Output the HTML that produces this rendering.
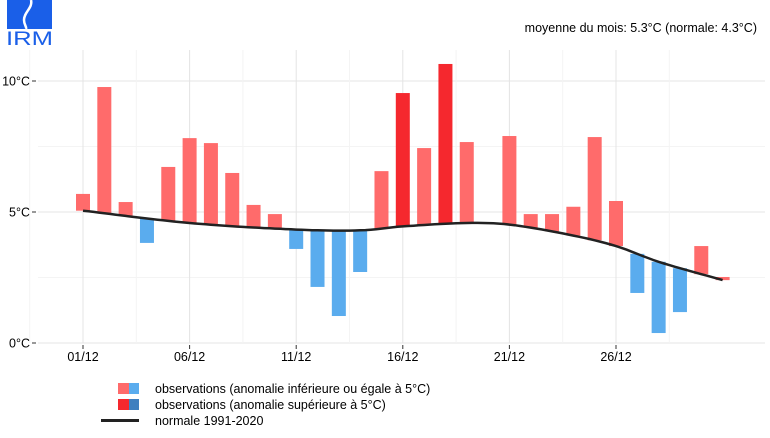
<!DOCTYPE html>
<html><head><meta charset="utf-8"><style>
body{margin:0;background:#fff;width:770px;height:433px;overflow:hidden;font-family:"Liberation Sans",sans-serif}
</style></head><body>
<svg id="s" width="770" height="433" xmlns="http://www.w3.org/2000/svg" font-family="Liberation Sans, sans-serif">
<rect width="770" height="433" fill="#fff"/>
<rect x="7" y="0" width="45" height="29" fill="#1a5fe8"/>
<path d="M31 0 C33 8,24 12,24 20 C24 25,27 27,26 29" stroke="#fff" stroke-width="2.5" fill="none"/>
<text x="6" y="45" font-size="19" fill="#1a5fe8" textLength="47" lengthAdjust="spacingAndGlyphs">IRM</text>
<text x="757" y="32" font-size="12.5" text-anchor="end" fill="#000">moyenne du mois: 5.3°C (normale: 4.3°C)</text>
<g id="g"></g>
<g font-size="12.5" fill="#000">
<rect x="118" y="383" width="11" height="11" fill="#ff6b6b"/><rect x="129" y="383" width="10" height="11" fill="#5aacee"/>
<text x="155" y="393">observations (anomalie inférieure ou égale à 5°C)</text>
<rect x="118" y="399" width="11" height="11" fill="#f5282e"/><rect x="129" y="399" width="10" height="11" fill="#3f7fbf"/>
<text x="155" y="409">observations (anomalie supérieure à 5°C)</text>
<rect x="101" y="419" width="38" height="3" fill="#222"/>
<text x="155" y="425">normale 1991-2020</text>
</g>
</svg>
<script>
const g=document.getElementById('g');let h='';
const Y=v=>343-v*26.2, X=d=>83+(d-1)*21.32;
for(let i=0;i<2;i++){let y=Y(i*5+2.5);h+=`<line x1="38" x2="765" y1="${y}" y2="${y}" stroke="#f4f4f4"/>`;}
for(let i=0;i<3;i++){let y=Y(i*5);h+=`<line x1="38" x2="765" y1="${y}" y2="${y}" stroke="#e4e4e4"/>`;h+=`<text x="30" y="${y+4.5}" font-size="12.5" text-anchor="end">${i*5}°C</text><line x1="32" x2="36" y1="${y}" y2="${y}" stroke="#333"/>`;}
const lab=['01/12','06/12','11/12','16/12','21/12','26/12'];
for(let i=0;i<7;i++){let x=X(1+i*5);if(i<6){h+=`<line x1="${x}" x2="${x}" y1="50" y2="343" stroke="#e4e4e4"/><line x1="${x}" x2="${x}" y1="345" y2="349" stroke="#333"/><text x="${x}" y="361" font-size="12.5" text-anchor="middle">${lab[i]}</text>`;}
let xm=X(1+i*5-2.5);h+=`<line x1="${xm}" x2="${xm}" y1="50" y2="343" stroke="#f4f4f4"/>`;}
const np=[[1,5.05],[6,4.58],[11,4.33],[14,4.3],[16,4.45],[19,4.58],[21,4.52],[24,4.1],[26,3.7],[28,3.1],[31,2.4]];
const m=np.map((p,i)=>{let a=np[Math.max(0,i-1)],b=np[Math.min(np.length-1,i+1)];return (b[1]-a[1])/(b[0]-a[0]);});
function N(d){for(let i=0;i<np.length-1;i++){let a=np[i],b=np[i+1];if(d>=a[0]&&d<=b[0]){let L=b[0]-a[0],t=(d-a[0])/L,t2=t*t,t3=t2*t;
return (2*t3-3*t2+1)*a[1]+(t3-2*t2+t)*L*m[i]+(-2*t3+3*t2)*b[1]+(t3-t2)*L*m[i+1];}}return 2.4;}
const v=[5.69,9.77,5.38,3.82,6.72,7.82,7.63,6.49,5.27,4.92,3.59,2.14,1.03,2.71,6.56,9.54,7.44,10.65,7.67,null,7.9,4.92,4.92,5.2,7.86,5.42,1.91,0.38,1.18,3.7,2.52];
v.forEach((t,i)=>{if(t==null)return;let d=i+1,n=N(d),x=X(d)-7;let hi=Math.max(t,n),lo=Math.min(t,n);
let big=Math.abs(t-n)>5,c=t>n?(big?'#f5282e':'#ff6b6b'):(big?'#3f7fbf':'#5aacee');
h+=`<rect x="${x}" y="${Y(hi)}" width="14" height="${Math.max(1.5,Y(lo)-Y(hi))}" fill="${c}"/>`;});
let p='';for(let d=1;d<=31.001;d+=0.25)p+=(p?'L':'M')+X(d).toFixed(1)+' '+Y(N(d)).toFixed(1);
h+=`<path d="${p}" stroke="#222" stroke-width="2.5" fill="none"/>`;
g.innerHTML=h;
</script>
</body></html>
